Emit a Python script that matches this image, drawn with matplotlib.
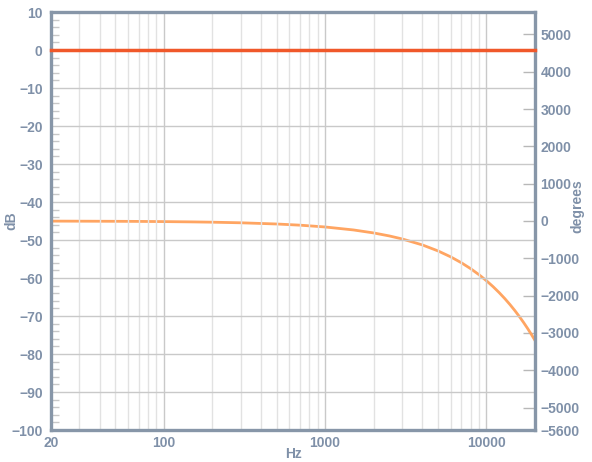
import matplotlib
matplotlib.use("Agg")
import matplotlib.pyplot as plt
from matplotlib.ticker import FixedLocator, NullFormatter, NullLocator

plt.rcParams['font.family'] = ['Liberation Sans', 'DejaVu Sans']

# ---- data ----
freq_hz = [20, 30, 50, 70, 100, 150, 200, 300, 500, 700, 1000, 1500, 2000, 2500,
           3000, 4000, 5000, 6000, 7000, 8000, 9000, 10000, 11000, 12000, 13000,
           14000, 15000, 16000, 17000, 18000, 19000, 20000]
phase_deg = [-3, -5, -8, -11, -16, -24, -32, -48, -80, -112, -160, -240, -320, -400,
             -480, -640, -800, -960, -1120, -1280, -1440, -1600, -1760, -1920, -2080,
             -2240, -2400, -2560, -2720, -2880, -3040, -3200]
mag_freq = [20, 20000]
mag_db = [0, 0]

x_tick_vals = [20, 100, 1000, 10000]
x_tick_labels = ["20", "100", "1000", "10000"]
db_ticks = [10, 0, -10, -20, -30, -40, -50, -60, -70, -80, -90, -100]
deg_ticks = [5000, 4000, 3000, 2000, 1000, 0, -1000, -2000, -3000, -4000, -5000, -5600]

# ---- style ----
label_color = "#7f90a8"
spine_color = "#8796a8"
major_grid = "#c9c9c9"
minor_grid = "#e2e2e2"
mag_color = "#f0582a"
phase_color = "#ffa562"

fig = plt.figure(figsize=(5.92, 4.62), dpi=100)
ax = fig.add_axes([51/592, 32/462, (535-51)/592, (430-12)/462])
ax.set_xscale("log")
ax.set_xlim(20, 20000)
ax.set_ylim(-100, 10)

# grid
minor_x = [m * 10**e for e in range(1, 5) for m in range(2, 10) if 20 < m * 10**e < 20000]
ax.xaxis.set_major_locator(FixedLocator(x_tick_vals))
ax.xaxis.set_minor_locator(FixedLocator(minor_x))
ax.xaxis.set_minor_formatter(NullFormatter())
ax.set_xticklabels(x_tick_labels)
ax.yaxis.set_major_locator(FixedLocator(db_ticks))
ax.yaxis.set_minor_locator(FixedLocator([v for v in range(-100, 11, 2) if v % 10 != 0]))
ax.grid(True, which="major", color=major_grid, linewidth=1.0, zorder=0)
ax.grid(True, which="minor", axis="x", color=minor_grid, linewidth=1.0, zorder=0)

ax.tick_params(axis="x", which="both", length=0, pad=4, labelsize=10, labelcolor=label_color)
ax.tick_params(axis="y", which="major", length=0, pad=6, labelsize=10, labelcolor=label_color)
ax.tick_params(axis="y", which="minor", direction="in", length=6, width=1, color="#c8c8c8")
for lbl in ax.get_xticklabels() + ax.get_yticklabels():
    lbl.set_fontweight("bold")

for s in ax.spines.values():
    s.set_color(spine_color)
    s.set_linewidth(2.4)

ax.set_xlabel("Hz", color=label_color, fontsize=10, fontweight="bold", va="center")
ax.xaxis.set_label_coords(0.5, -0.058)
ax.set_ylabel("dB", color=label_color, fontsize=10, fontweight="bold", va="center")
ax.yaxis.set_label_coords(-0.082, 0.5)

# secondary axis for phase
ax2 = ax.twinx()
ax2.set_ylim(-5600, 5600)
ax2.yaxis.set_major_locator(FixedLocator(deg_ticks))
ax2.yaxis.set_minor_locator(NullLocator())
ax2.tick_params(axis="y", which="major", direction="in", length=9, width=1, color="#b8b8b8",
                pad=4, labelsize=10, labelcolor=label_color)
for lbl in ax2.get_yticklabels():
    lbl.set_fontweight("bold")
for s in ax2.spines.values():
    s.set_visible(False)
ax2.set_ylabel("degrees", color=label_color, fontsize=10, fontweight="bold", va="center")
ax2.yaxis.set_label_coords(1.087, 0.535)

ax2.plot(freq_hz, phase_deg, color=phase_color, linewidth=2.0, zorder=3)
ax.plot(mag_freq, mag_db, color=mag_color, linewidth=2.5, zorder=4, clip_on=False)
ax.set_zorder(ax2.get_zorder() + 1)
ax.patch.set_visible(False)

fig.savefig("out.png", dpi=100, facecolor="white")
